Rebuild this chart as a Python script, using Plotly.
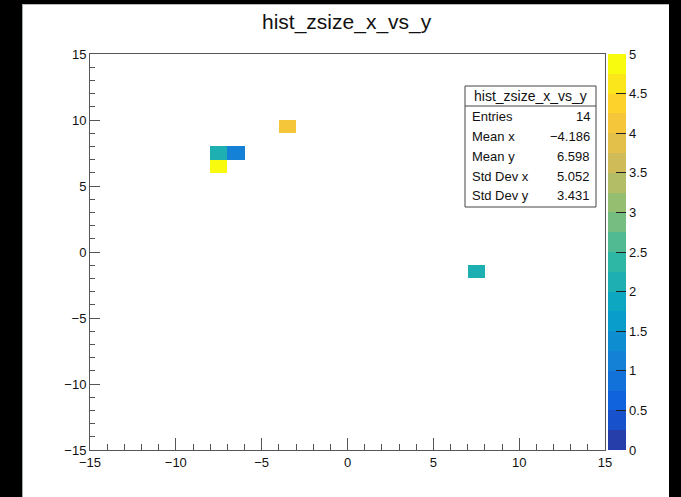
import plotly.graph_objects as go
import numpy as np

# ---------------- data ----------------
title_text = "hist_zsize_x_vs_y"
cell_x = [-7.5, -6.5, -7.5, -3.5, 7.5]   # bin centres (x)
cell_y = [7.5, 7.5, 6.5, 9.5, -1.5]      # bin centres (y)
cell_z = [2, 1, 5, 4, 2]                 # bin contents
x_edges_range = [-15, 15]
y_edges_range = [-15, 15]
stat_labels = ["Entries", "Mean x", "Mean y", "Std Dev x", "Std Dev y"]
stat_values = ["14", "\u22124.186", "6.598", "5.052", "3.431"]
z_min, z_max = 0, 5

# ---------------- histogram grid ----------------
nx = x_edges_range[1] - x_edges_range[0]
ny = y_edges_range[1] - y_edges_range[0]
xc = [x_edges_range[0] + 0.5 + i for i in range(nx)]
yc = [y_edges_range[0] + 0.5 + j for j in range(ny)]
Z = [[None] * nx for _ in range(ny)]
for x, y, z in zip(cell_x, cell_y, cell_z):
    i = int(np.floor(x - x_edges_range[0]))
    j = int(np.floor(y - y_edges_range[0]))
    Z[j][i] = z

# ---------------- ROOT kBird palette, 20 contour bands ----------------
stops = [0.0, 0.125, 0.25, 0.375, 0.5, 0.625, 0.75, 0.875, 1.0]
red = [0.2082, 0.0592, 0.0780, 0.0232, 0.1802, 0.5301, 0.8186, 0.9956, 0.9764]
green = [0.1664, 0.3599, 0.5041, 0.6419, 0.7178, 0.7492, 0.7328, 0.7862, 0.9832]
blue = [0.5293, 0.8684, 0.8385, 0.7914, 0.6425, 0.4662, 0.3499, 0.1968, 0.0539]

def bird(f):
    f = min(max(f, 0), 1)
    r = np.interp(f, stops, red); g = np.interp(f, stops, green); b = np.interp(f, stops, blue)
    return "rgb(%d,%d,%d)" % (round(r * 255), round(g * 255), round(b * 255))

nb = 20
eps = 1e-6
cs = []
for i in range(nb):
    c = bird(min((i + 0.99) / nb, 1.0))
    lo = 0.0 if i == 0 else i / nb - eps
    hi = 1.0 if i == nb - 1 else (i + 1) / nb - eps
    cs.append([lo, c])
    cs.append([hi, c])

FONT = "Liberation Sans, Arial, sans-serif"
TXT = "#111"

fig = go.Figure()
fig.add_trace(go.Heatmap(
    x=xc, y=yc, z=Z, zmin=z_min, zmax=z_max, colorscale=cs,
    hoverongaps=False,
    colorbar=dict(
        thickness=18, thicknessmode="pixels",
        len=1.0, lenmode="fraction", y=0, yanchor="bottom",
        x=1.006, xanchor="left", xpad=0, ypad=0,
        outlinewidth=0,
        tick0=0, dtick=0.5, ticks="inside", ticklen=10, tickcolor="#222", tickwidth=1,
        tickfont=dict(family=FONT, size=13, color=TXT),
    ),
))

# plot area: x 90..605, y 54..450
L, R, T, B = 90, 605, 54, 450
W, H = 681, 497
def px(x): return (x - L) / (R - L)
def py(y): return (B - y) / (B - T)

axis_common = dict(
    showgrid=False, zeroline=False, showline=True, linecolor="#555", linewidth=1,
    mirror=True, ticks="inside", tickcolor="#555", tickwidth=1,
    tick0=-15, dtick=5,
    tickfont=dict(family=FONT, size=13, color=TXT),
)
fig.update_xaxes(range=x_edges_range, ticklen=12,
                 minor=dict(ticks="inside", dtick=1, tick0=-15, ticklen=6, tickcolor="#555"),
                 **axis_common)
fig.update_yaxes(range=y_edges_range, ticklen=10,
                 minor=dict(ticks="inside", dtick=1, tick0=-15, ticklen=5, tickcolor="#555"),
                 **axis_common)

shapes = []
# white canvas over black page
shapes.append(dict(type="rect", xref="paper", yref="paper", layer="below",
                   x0=px(22), x1=px(669), y0=py(W * 2), y1=py(4),
                   fillcolor="white", line=dict(width=0)))
shapes.append(dict(type="line", xref="paper", yref="paper",
                   x0=px(22.5), x1=px(22.5), y0=py(W * 2), y1=py(4),
                   line=dict(color="#9aa", width=1)))
shapes.append(dict(type="line", xref="paper", yref="paper",
                   x0=px(22), x1=px(669), y0=py(4.5), y1=py(4.5),
                   line=dict(color="#bbb", width=1)))
# stats box
bx0, bx1, by0, by1, bsep = 465, 596, 86, 207, 106
shapes.append(dict(type="rect", xref="paper", yref="paper",
                   x0=px(bx0), x1=px(bx1), y0=py(by1), y1=py(by0),
                   fillcolor="white", line=dict(color="#444", width=1)))
shapes.append(dict(type="line", xref="paper", yref="paper",
                   x0=px(bx0), x1=px(bx1), y0=py(bsep), y1=py(bsep),
                   line=dict(color="#444", width=1)))

annotations = []
annotations.append(dict(text=title_text, xref="paper", yref="paper",
                        x=px(347), y=py(22), xanchor="center", yanchor="middle",
                        showarrow=False, font=dict(family=FONT, size=21, color=TXT)))
annotations.append(dict(text=title_text, xref="paper", yref="paper",
                        x=px((bx0 + bx1) / 2), y=py(96), xanchor="center", yanchor="middle",
                        showarrow=False, font=dict(family=FONT, size=14, color=TXT)))
row_y0, row_dy = 117, 19.7
for k, (lab, val) in enumerate(zip(stat_labels, stat_values)):
    yy = row_y0 + k * row_dy
    annotations.append(dict(text=lab, xref="paper", yref="paper",
                            x=px(470), y=py(yy), xanchor="left", yanchor="middle",
                            showarrow=False, font=dict(family=FONT, size=13, color=TXT)))
    annotations.append(dict(text=val, xref="paper", yref="paper",
                            x=px(592), y=py(yy), xanchor="right", yanchor="middle",
                            showarrow=False, font=dict(family=FONT, size=13, color=TXT)))

fig.update_layout(
    width=W, height=H,
    margin=dict(l=L, r=W - R, t=T, b=H - B, pad=0, autoexpand=False),
    paper_bgcolor="black", plot_bgcolor="white",
    shapes=shapes, annotations=annotations,
    showlegend=False,
)
fig.write_html("out.html")
